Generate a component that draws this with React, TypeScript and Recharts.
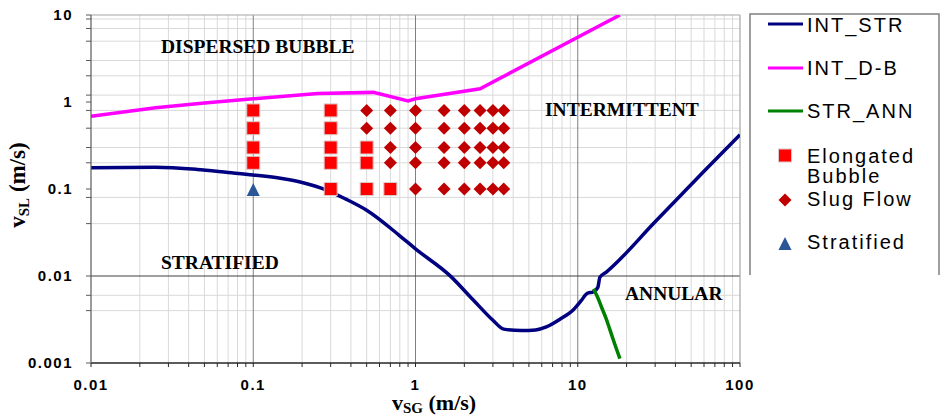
import React from 'react';
import { ComposedChart, Line, Scatter, XAxis, YAxis, ReferenceLine } from 'recharts';

// Flow-pattern map: superficial gas velocity vs superficial liquid velocity (m/s)

// INT_STR boundary
const intStrVsg = [0.01, 0.025, 0.045, 0.07, 0.1, 0.15, 0.2, 0.28, 0.37, 0.5, 0.8, 1.0, 1.63, 2.27, 3.0, 3.5, 4.5, 5.5, 6.4, 7.8, 9.4, 10.5, 11.4, 12.5, 13.3, 13.7, 15, 30, 60, 100];
const intStrVsl = [0.176, 0.178, 0.168, 0.155, 0.145, 0.132, 0.119, 0.098, 0.077, 0.057, 0.029, 0.0205, 0.0101, 0.0053, 0.0031, 0.00245, 0.00236, 0.0024, 0.0026, 0.0032, 0.0041, 0.0052, 0.0063, 0.0066, 0.0074, 0.0097, 0.0111, 0.042, 0.16, 0.42];

// INT_D-B boundary
const intDbVsg = [0.01, 0.025, 0.05, 0.1, 0.25, 0.55, 0.9, 1.0, 2.5, 18.2];
const intDbVsl = [0.685, 0.86, 0.975, 1.09, 1.25, 1.29, 1.03, 1.09, 1.42, 10];

// STR_ANN boundary
const strAnnVsg = [12.5, 13.2, 14.0, 15.0, 15.8, 17.0, 18.2];
const strAnnVsl = [0.0071, 0.0058, 0.0044, 0.0032, 0.0024, 0.0016, 0.00112];

// experimental points
const elongatedVsg = [0.1, 0.1, 0.1, 0.1, 0.3, 0.3, 0.3, 0.3, 0.3, 0.5, 0.5, 0.5, 0.7];
const elongatedVsl = [0.8, 0.5, 0.3, 0.2, 0.8, 0.5, 0.3, 0.2, 0.1, 0.3, 0.2, 0.1, 0.1];

const slugVsg = [
  0.5, 0.5,
  0.7, 0.7, 0.7, 0.7,
  1, 1, 1, 1, 1,
  1.5, 1.5, 1.5, 1.5, 1.5,
  2, 2, 2, 2, 2,
  2.5, 2.5, 2.5, 2.5, 2.5,
  3, 3, 3, 3, 3,
  3.5, 3.5, 3.5, 3.5, 3.5,
];
const slugVsl = [
  0.8, 0.5,
  0.8, 0.5, 0.3, 0.2,
  0.8, 0.5, 0.3, 0.2, 0.1,
  0.8, 0.5, 0.3, 0.2, 0.1,
  0.8, 0.5, 0.3, 0.2, 0.1,
  0.8, 0.5, 0.3, 0.2, 0.1,
  0.8, 0.5, 0.3, 0.2, 0.1,
  0.8, 0.5, 0.3, 0.2, 0.1,
];

const stratifiedVsg = [0.1];
const stratifiedVsl = [0.1];

// axes
const xMajor = [0.01, 0.1, 1, 10, 100];
const xLabels = ['0.01', '0.1', '1', '10', '100'];
const yMajor = [0.001, 0.01, 0.1, 1, 10];
const yLabels = ['0.001', '0.01', '0.1', '1', '10'];
const yGrid = [9, 7, 5, 3, 2, 1.2, 0.8, 0.5, 0.3, 0.2, 0.08, 0.04, 0.006, 0.004];

const xGrid = [0.01, 0.1, 1, 10].flatMap((d) => [2, 3, 4, 5, 6, 7, 8, 9].map((m) => +(d * m).toPrecision(3)));
const xTicks = [...xMajor, ...xGrid].sort((a, b) => a - b);
const yTicks = [...yMajor, ...yGrid].sort((a, b) => a - b);

const zip = (xs: number[], ys: number[]) => xs.map((vsg, i) => ({ vsg, vsl: ys[i] }));

const NAVY = '#000080';
const MAGENTA = '#FF00FF';
const GREEN = '#008000';
const RED = '#FF0000';
const DARK_RED = '#C00000';
const BLUE = '#2B5797';

const SERIF = "'Liberation Serif', 'Times New Roman', serif";
const SANS = "'Liberation Sans', Arial, sans-serif";

const Square = ({ cx, cy }: any) => (
  <rect x={cx - 6.5} y={cy - 6.5} width={13} height={13} fill={RED} stroke="#dcc8c8" strokeWidth={1} />
);
const Diamond = ({ cx, cy }: any) => (
  <polygon points={`${cx},${cy - 6.5} ${cx + 6.5},${cy} ${cx},${cy + 6.5} ${cx - 6.5},${cy}`} fill={DARK_RED} />
);
const Triangle = ({ cx, cy }: any) => (
  <polygon points={`${cx},${cy - 6} ${cx + 6.5},${cy + 7} ${cx - 6.5},${cy + 7}`} fill={BLUE} />
);

const XTick = ({ x, y, payload }: any) => {
  const i = xMajor.indexOf(payload.value);
  if (i < 0) return <g />;
  return (
    <text x={x} y={y} dy="0.71em" textAnchor="middle" fontFamily={SANS} fontWeight="bold" fontSize={15} letterSpacing={1.5} fill="#000">
      {xLabels[i]}
    </text>
  );
};

const YTick = ({ x, y, payload }: any) => {
  const i = yMajor.indexOf(payload.value);
  if (i < 0) return <g />;
  return (
    <text x={x} y={y} dy="0.355em" textAnchor="end" fontFamily={SANS} fontWeight="bold" fontSize={15} letterSpacing={1.5} fill="#000">
      {yLabels[i]}
    </text>
  );
};

const legendText = { fontFamily: SANS, fontSize: 20, letterSpacing: 2, fill: '#000' };
const regionText = { fontFamily: SERIF, fontSize: 19.5, fontWeight: 'bold' as const, fill: '#000' };

export default function App() {
  return (
    <div style={{ position: 'absolute', left: 0, top: 0, width: 940, height: 417, background: '#fff', overflow: 'hidden' }}>
      <ComposedChart width={940} height={417} margin={{ top: 15, right: 200, bottom: 24, left: 31 }}>
        {xGrid.map((v) => (
          <ReferenceLine key={'gx' + v} x={v} stroke="#d9d9d9" strokeWidth={1} />
        ))}
        {yGrid.map((v) => (
          <ReferenceLine key={'gy' + v} y={v} stroke="#d9d9d9" strokeWidth={1} />
        ))}
        {[0.1, 1, 10].map((v) => (
          <ReferenceLine key={'mx' + v} x={v} stroke="#808080" strokeWidth={1} />
        ))}
        <ReferenceLine y={0.01} stroke="#404040" strokeWidth={1.2} />
        <ReferenceLine y={10} stroke="#a6a6a6" strokeWidth={1.2} />
        <ReferenceLine x={100} stroke="#a6a6a6" strokeWidth={1.2} />

        <XAxis
          dataKey="vsg"
          type="number"
          scale="log"
          domain={[0.01, 100]}
          allowDataOverflow
          ticks={xTicks}
          interval={0}
          tick={XTick}
          tickSize={4}
          tickMargin={12}
          height={30}
          axisLine={{ stroke: '#262626', strokeWidth: 1.5 }}
          tickLine={{ stroke: '#262626' }}
        />
        <YAxis
          dataKey="vsl"
          type="number"
          scale="log"
          domain={[0.001, 10]}
          allowDataOverflow
          ticks={yTicks}
          interval={0}
          tick={YTick}
          tickSize={5}
          tickMargin={13}
          width={60}
          axisLine={{ stroke: '#595959', strokeWidth: 1.2 }}
          tickLine={{ stroke: '#595959' }}
        />

        <Line data={zip(intStrVsg, intStrVsl)} dataKey="vsl" type="monotone" stroke={NAVY} strokeWidth={3.5} dot={false} isAnimationActive={false} />
        <Line data={zip(intDbVsg, intDbVsl)} dataKey="vsl" type="linear" stroke={MAGENTA} strokeWidth={3.5} dot={false} isAnimationActive={false} />
        <Line data={zip(strAnnVsg, strAnnVsl)} dataKey="vsl" type="monotone" stroke={GREEN} strokeWidth={3.5} dot={false} isAnimationActive={false} />

        <Scatter data={zip(elongatedVsg, elongatedVsl)} shape={Square} isAnimationActive={false} />
        <Scatter data={zip(slugVsg, slugVsl)} shape={Diamond} isAnimationActive={false} />
        <Scatter data={zip(stratifiedVsg, stratifiedVsl)} shape={Triangle} isAnimationActive={false} />
      </ComposedChart>

      <svg width={940} height={417} style={{ position: 'absolute', left: 0, top: 0, pointerEvents: 'none' }}>
        {/* regime labels */}
        <text x={161} y={53} {...regionText}>DISPERSED BUBBLE</text>
        <text x={545} y={116} {...regionText}>INTERMITTENT</text>
        <text x={161} y={269} {...regionText}>STRATIFIED</text>
        <text x={625} y={300} {...regionText}>ANNULAR</text>

        {/* axis titles */}
        <text x={392} y={410} fontFamily={SERIF} fontWeight="bold" fontSize={22} fill="#000">
          v<tspan fontSize={15} dy={3}>SG</tspan>
          <tspan dy={-3}> (m/s)</tspan>
        </text>
        <text x={25} y={185} transform="rotate(-90, 25, 185)" textAnchor="middle" fontFamily={SERIF} fontWeight="bold" fontSize={23} fill="#000">
          v<tspan fontSize={15} dy={4}>SL</tspan>
          <tspan dy={-4}> (m/s)</tspan>
        </text>

        {/* legend */}
        <path d="M750,275 V14 H939 V275" fill="none" stroke="#808080" strokeWidth={1.5} />
        <line x1={768} x2={803} y1={24} y2={24} stroke={NAVY} strokeWidth={3} />
        <text x={807} y={31.7} {...legendText}>INT_STR</text>
        <line x1={768} x2={803} y1={68} y2={68} stroke={MAGENTA} strokeWidth={3} />
        <text x={807} y={75} {...legendText}>INT_D-B</text>
        <line x1={768} x2={803} y1={111} y2={111} stroke={GREEN} strokeWidth={3} />
        <text x={807} y={118.3} {...legendText}>STR_ANN</text>
        <Square cx={785} cy={155.5} />
        <text x={807} y={162.7} {...legendText}>Elongated</text>
        <text x={807} y={183.3} {...legendText}>Bubble</text>
        <Diamond cx={785} cy={200} />
        <text x={807} y={206} {...legendText}>Slug Flow</text>
        <Triangle cx={785} cy={243} />
        <text x={807} y={249.3} {...legendText}>Stratified</text>
      </svg>
    </div>
  );
}
